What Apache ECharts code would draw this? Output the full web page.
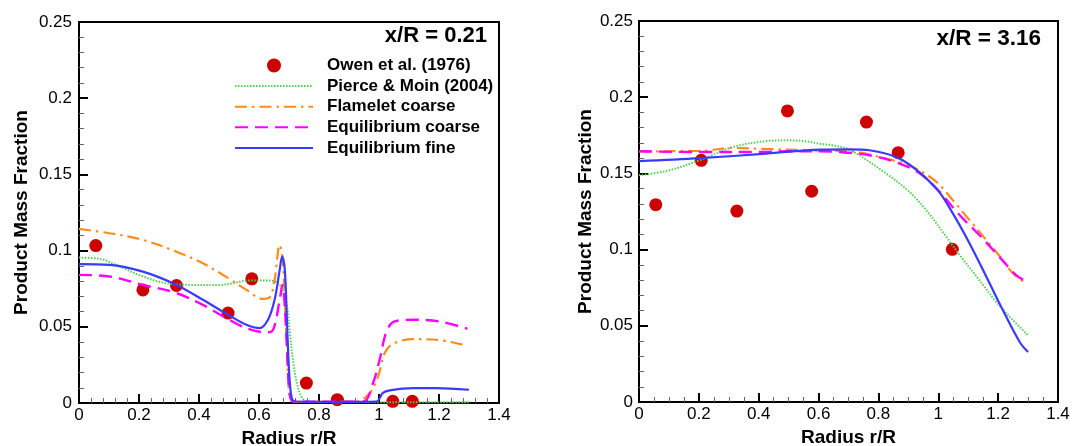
<!DOCTYPE html>
<html>
<head>
<meta charset="utf-8">
<script src="https://cdn.jsdelivr.net/npm/echarts@6/dist/echarts.min.js"></script>
<style>html,body{margin:0;padding:0;background:#fff}#c{width:1075px;height:446px}</style>
</head>
<body>
<div id="c"></div>
<script>
// ---- Tick labels ----
const xTickLabels = ['0', '0.2', '0.4', '0.6', '0.8', '1', '1.2', '1.4'];
const yTickLabels = ['0', '0.05', '0.1', '0.15', '0.2', '0.25'];
const panelTitles = ['x/R = 0.21', 'x/R = 3.16'];
const seriesNames = ['Owen et al. (1976)', 'Pierce & Moin (2004)', 'Flamelet coarse', 'Equilibrium coarse', 'Equilibrium fine'];

// ---- Left panel: x/R = 0.21 ----
const owenA_x = [0.056, 0.213, 0.325, 0.497, 0.576, 0.758, 0.861, 1.046, 1.111];
const owenA_y = [0.1033, 0.0742, 0.0771, 0.0590, 0.0815, 0.0131, 0.0022, 0.0011, 0.0011];

const pierceA_x = [0, 0.069, 0.136, 0.213, 0.291, 0.38, 0.469, 0.513, 0.558, 0.636, 0.669, 0.691, 0.702, 0.713, 0.724, 0.741, 0.763, 0.85, 1.0, 1.15, 1.3];
const pierceA_y = [0.0954, 0.0946, 0.0895, 0.083, 0.0786, 0.0775, 0.0775, 0.0786, 0.0803, 0.0803, 0.0775, 0.0655, 0.048, 0.0284, 0.0153, 0.0043, 0.001, 0.0005, 0.0005, 0.0005, 0.0005];

const flameA_x = [0, 0.102, 0.213, 0.325, 0.413, 0.497, 0.558, 0.613, 0.636, 0.652, 0.669, 0.678, 0.689, 0.697, 0.705, 0.72, 0.8, 0.925, 0.969, 0.997, 1.019, 1.047, 1.113, 1.191, 1.295];
const flameA_y = [0.1142, 0.1114, 0.107, 0.0993, 0.0917, 0.0819, 0.0742, 0.0683, 0.0694, 0.0808, 0.1037, 0.096, 0.0546, 0.0174, 0.0022, 0.0008, 0.0008, 0.001, 0.0066, 0.0174, 0.0328, 0.0389, 0.0419, 0.0415, 0.0375];

const eqCoarseA_x = [0, 0.102, 0.213, 0.325, 0.413, 0.497, 0.558, 0.625, 0.647, 0.669, 0.678, 0.686, 0.694, 0.702, 0.713, 0.8, 0.947, 0.98, 1.002, 1.025, 1.052, 1.113, 1.202, 1.295];
const eqCoarseA_y = [0.0841, 0.083, 0.0775, 0.0721, 0.0644, 0.055, 0.0491, 0.0463, 0.048, 0.0677, 0.0775, 0.0633, 0.0328, 0.0066, 0.001, 0.0008, 0.001, 0.0131, 0.0284, 0.0469, 0.0535, 0.0546, 0.0535, 0.0487];

const eqFineA_x = [0, 0.102, 0.213, 0.325, 0.413, 0.497, 0.558, 0.602, 0.63, 0.652, 0.669, 0.677, 0.686, 0.693, 0.7, 0.708, 0.719, 0.85, 0.991, 1.013, 1.036, 1.113, 1.191, 1.3];
const eqFineA_y = [0.0911, 0.0906, 0.0862, 0.0775, 0.0677, 0.0579, 0.0513, 0.0491, 0.0546, 0.0677, 0.0874, 0.0961, 0.0874, 0.0546, 0.0218, 0.0043, 0.001, 0.0008, 0.001, 0.0066, 0.0083, 0.0098, 0.0098, 0.0087];

// ---- Right panel: x/R = 3.16 ----
const owenB_x = [0.056, 0.208, 0.327, 0.496, 0.577, 0.760, 0.866, 1.047];
const owenB_y = [0.1295, 0.1586, 0.1253, 0.1910, 0.1383, 0.1837, 0.1636, 0.1002];

const pierceB_x = [0, 0.092, 0.203, 0.314, 0.426, 0.493, 0.559, 0.603, 0.648, 0.704, 0.826, 0.904, 0.96, 1.027, 1.072, 1.138, 1.194, 1.25, 1.3];
const pierceB_y = [0.1488, 0.1516, 0.1586, 0.1673, 0.1712, 0.1717, 0.171, 0.1695, 0.1684, 0.1655, 0.1499, 0.1378, 0.1258, 0.1083, 0.0963, 0.0798, 0.0656, 0.0536, 0.0438];

const flameB_x = [0, 0.203, 0.314, 0.426, 0.537, 0.603, 0.704, 0.826, 0.915, 0.994, 1.049, 1.105, 1.161, 1.216, 1.25, 1.295];
const flameB_y = [0.1645, 0.1647, 0.1667, 0.166, 0.1654, 0.165, 0.1645, 0.1597, 0.1542, 0.1444, 0.1323, 0.1192, 0.1061, 0.093, 0.0843, 0.0777];

const eqCoarseB_x = [0, 0.203, 0.4, 0.5, 0.603, 0.659, 0.77, 0.866, 0.939, 1.005, 1.072, 1.138, 1.205, 1.261, 1.3];
const eqCoarseB_y = [0.1645, 0.164, 0.164, 0.1645, 0.1645, 0.1642, 0.1619, 0.1568, 0.1499, 0.1378, 0.1225, 0.1094, 0.0951, 0.0831, 0.0787];

const eqFineB_x = [0, 0.203, 0.426, 0.603, 0.704, 0.77, 0.881, 0.994, 1.049, 1.105, 1.161, 1.216, 1.272, 1.3];
const eqFineB_y = [0.158, 0.160, 0.163, 0.1656, 0.1658, 0.1652, 0.1586, 0.140, 0.1236, 0.1039, 0.082, 0.0602, 0.0394, 0.0328];

// ---- build ----
const zip = (xs, ys) => xs.map((x, i) => [x, ys[i]]);
const FONT = 'Liberation Sans, Arial, Helvetica, sans-serif';
const styles = [
  null,
  { color: '#4cd44c', width: 2, type: [1.5, 1.5] },
  { color: '#ff8c1a', width: 2.2, type: [12, 5, 2.5, 5] },
  { color: '#ff00ff', width: 2.4, type: [13, 7] },
  { color: '#3a3aff', width: 2.2, type: 'solid' }
];
const panels = [
  [zip(owenA_x, owenA_y), zip(pierceA_x, pierceA_y), zip(flameA_x, flameA_y), zip(eqCoarseA_x, eqCoarseA_y), zip(eqFineA_x, eqFineA_y)],
  [zip(owenB_x, owenB_y), zip(pierceB_x, pierceB_y), zip(flameB_x, flameB_y), zip(eqCoarseB_x, eqCoarseB_y), zip(eqFineB_x, eqFineB_y)]
];

const grids = [
  { left: 79, top: 22, width: 420, height: 381 },
  { left: 639, top: 21, width: 419, height: 381 }
];
const xMinorSplit = [5, 4];
const yNameGap = [48, 44];
const yLabelMargin = [7, 6];

const series = [];
panels.forEach((pd, gi) => {
  pd.forEach((d, si) => {
    if (si === 0) {
      series.push({
        name: seriesNames[0], type: 'scatter', xAxisIndex: gi, yAxisIndex: gi,
        data: d, symbol: 'circle', symbolSize: 13, z: 1,
        itemStyle: { color: '#cc0000', opacity: 1 }
      });
    } else {
      series.push({
        name: seriesNames[si], type: 'line', xAxisIndex: gi, yAxisIndex: gi,
        data: d, showSymbol: false, symbol: 'none', smooth: 0.35, z: 2 + si,
        lineStyle: { color: styles[si].color, width: styles[si].width, type: styles[si].type, cap: 'butt' },
        itemStyle: { color: styles[si].color }
      });
    }
  });
});

const legendData = seriesNames.map((n, i) => i === 0 ? { name: n } :
  { name: n, itemStyle: { color: 'rgba(0,0,0,0)', opacity: 0, borderWidth: 0 } });

const option = {
  animation: false,
  backgroundColor: '#fff',
  textStyle: { fontFamily: FONT },
  title: [
    { text: panelTitles[0], right: 588, top: 25, padding: 0,
      textStyle: { fontFamily: FONT, fontSize: 22, fontWeight: 'bold', color: '#000' } },
    { text: panelTitles[1], right: 34, top: 27, padding: 0,
      textStyle: { fontFamily: FONT, fontSize: 22.5, fontWeight: 'bold', color: '#000' } }
  ],
  legend: {
    data: legendData, orient: 'vertical', left: 234, top: 57, padding: 0,
    itemWidth: 78, itemHeight: 14, itemGap: 3.6, align: 'left',
    selectedMode: false,
    textStyle: { fontFamily: FONT, fontSize: 17, fontWeight: 'bold', color: '#000', padding: [0, 0, 0, 9] }
  },
  grid: grids.map(g => Object.assign({ show: true, borderColor: '#000', borderWidth: 2, backgroundColor: 'transparent', containLabel: false, outerBoundsMode: 'none' }, g)),
  xAxis: grids.map((g, i) => ({
    type: 'value', gridIndex: i, min: 0, max: 1.4, interval: 0.2,
    name: 'Radius r/R', nameLocation: 'middle', nameGap: 18,
    nameTextStyle: { fontFamily: FONT, fontSize: 19, fontWeight: 'bold', color: '#000' },
    axisLine: { show: true, lineStyle: { color: '#000', width: 2 } },
    axisTick: { show: true, inside: true, length: 9, lineStyle: { color: '#000', width: 2 } },
    minorTick: { show: true, splitNumber: xMinorSplit[i], length: 5, lineStyle: { color: '#666', width: 1 } },
    splitLine: { show: false },
    axisLabel: { margin: 4, fontFamily: FONT, fontSize: 17, color: '#000',
      formatter: v => xTickLabels[Math.round(v / 0.2)] }
  })),
  yAxis: grids.map((g, i) => ({
    type: 'value', gridIndex: i, min: 0, max: 0.25, interval: 0.05,
    name: 'Product Mass Fraction', nameLocation: 'middle', nameGap: yNameGap[i],
    nameTextStyle: { fontFamily: FONT, fontSize: 19, fontWeight: 'bold', color: '#000' },
    axisLine: { show: true, lineStyle: { color: '#000', width: 2 } },
    axisTick: { show: true, inside: true, length: 9, lineStyle: { color: '#000', width: 2 } },
    minorTick: { show: true, splitNumber: 5, length: 5, lineStyle: { color: '#666', width: 1 } },
    splitLine: { show: false },
    axisLabel: { margin: yLabelMargin[i], fontFamily: FONT, fontSize: 17, color: '#000',
      formatter: v => yTickLabels[Math.round(v / 0.05)] }
  })),
  series: series
};

const chart = echarts.init(document.getElementById('c'), null, { renderer: 'canvas' });
chart.setOption(option);
</script>
</body>
</html>
